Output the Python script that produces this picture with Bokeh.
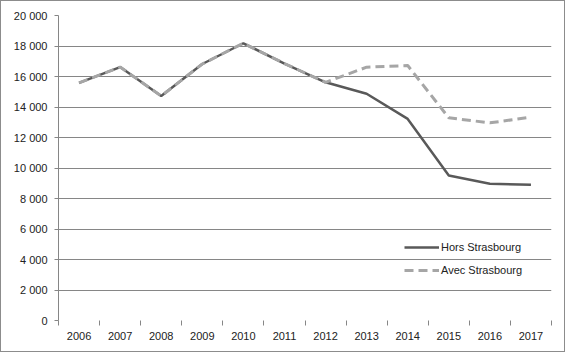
from bokeh.plotting import figure
from bokeh.models import FixedTicker, Legend, LegendItem, ColumnDataSource
from bokeh.embed import file_html
from bokeh.resources import INLINE

years = [2006, 2007, 2008, 2009, 2010, 2011, 2012, 2013, 2014, 2015, 2016, 2017]
hors_strasbourg = [15580, 16620, 14720, 16820, 18180, 16850, 15620, 14870, 13220, 9510, 8970, 8900]
avec_strasbourg = [15580, 16620, 14720, 16820, 18180, 16850, 15620, 16610, 16720, 13290, 12960, 13330]
y_ticks = [0, 2000, 4000, 6000, 8000, 10000, 12000, 14000, 16000, 18000, 20000]
y_tick_labels = ["0", "2 000", "4 000", "6 000", "8 000", "10 000", "12 000",
                 "14 000", "16 000", "18 000", "20 000"]
series_names = ["Hors Strasbourg", "Avec Strasbourg"]

src = ColumnDataSource(dict(x=years, hors=hors_strasbourg, avec=avec_strasbourg))

p = figure(width=565, height=352, output_backend="svg", toolbar_location=None,
           x_range=(years[0] - 0.5, years[-1] + 0.5), y_range=(0, 20000),
           min_border_left=57, min_border_right=15, min_border_top=14, min_border_bottom=33)
p.styles = {"border": "1px solid #8c8c8c"}
p.outline_line_color = None
p.background_fill_color = "white"
p.border_fill_color = "white"

# y axis
p.yaxis.ticker = FixedTicker(ticks=y_ticks)
p.yaxis.major_label_overrides = {t: l for t, l in zip(y_ticks, y_tick_labels)}
p.yaxis.axis_line_color = "#868686"
p.yaxis.major_tick_line_color = "#868686"
p.yaxis.major_tick_in = 0
p.yaxis.major_tick_out = 4
p.yaxis.minor_tick_line_color = None
p.yaxis.major_label_text_font = "Liberation Sans"
p.yaxis.major_label_text_font_size = "11px"
p.yaxis.major_label_text_color = "#222222"
p.yaxis.major_label_standoff = 7

# x axis
p.xaxis.ticker = FixedTicker(ticks=years, minor_ticks=[y - 0.5 for y in years] + [years[-1] + 0.5])
p.xaxis.major_label_overrides = {y: str(y) for y in years}
p.xaxis.axis_line_color = None
p.xaxis.major_tick_line_color = None
p.xaxis.minor_tick_line_color = "#868686"
p.xaxis.minor_tick_in = 0
p.xaxis.minor_tick_out = 5
p.xaxis.major_label_text_font = "Liberation Sans"
p.xaxis.major_label_text_font_size = "11px"
p.xaxis.major_label_text_color = "#222222"
p.xaxis.major_label_standoff = 5

p.xgrid.grid_line_color = None
p.ygrid.ticker = FixedTicker(ticks=y_ticks[1:])
p.ygrid.grid_line_color = "#868686"
p.ygrid.grid_line_width = 1

r1 = p.line("x", "hors", source=src, line_color="#595959", line_width=2.5)
r2 = p.line("x", "avec", source=src, line_color="#a6a6a6", line_width=3, line_dash="9 5")

legend = Legend(items=[LegendItem(label=series_names[0], renderers=[r1]),
                       LegendItem(label=series_names[1], renderers=[r2])],
                location=(346, 40), orientation="vertical")
legend.background_fill_alpha = 0
legend.border_line_color = None
legend.padding = 0
legend.margin = 0
legend.spacing = 3
legend.glyph_width = 35
legend.glyph_height = 20
legend.label_height = 20
legend.label_standoff = 2
legend.label_text_font = "Liberation Sans"
legend.label_text_font_size = "11px"
legend.label_text_color = "#222222"
p.add_layout(legend)

open("out.html", "w").write(file_html(p, INLINE))
